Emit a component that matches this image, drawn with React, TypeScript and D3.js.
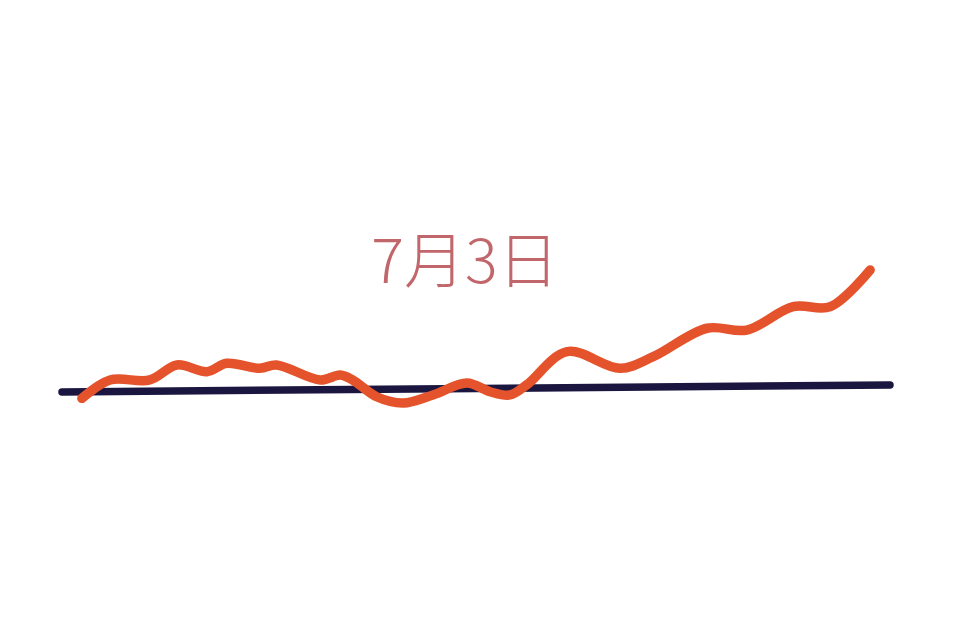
import React from "react";
import * as d3 from "d3";

const xs = [2.4, 5.8, 10.6, 13.9, 17.5, 19.9, 23.9, 25.9, 31.2, 33.6, 35.1, 38.0, 41.2, 44.8, 48.9, 51.7, 54.1, 56.1, 61.0, 67.4, 71.4, 77.9, 82.7, 88.3, 92.8, 97.6];
const values = [-8.6, 6.7, 6.7, 19.2, 13.6, 20.6, 16.4, 19.2, 6.7, 10.8, 6.7, -7.3, -12.5, -5.8, 4.2, -3.1, -5.8, 2.5, 30.3, 16.4, 26.1, 49.8, 48.3, 67.8, 67.8, 98.3];
const baselineXs = [0, 100];
const baselineValues = [-3.3, 2.5];
const title = "7月3日";

export default function App() {
  const W = 960, H = 620;
  const x = d3.scaleLinear().domain([0, 100]).range([62, 890]);
  const y = d3.scaleLinear().domain([-20, 100]).range([412, 268]);
  const pts: [number, number][] = xs.map((d, i) => [x(d), y(values[i])]);
  const line = d3.line().curve(d3.curveCatmullRom.alpha(0.5));
  const base: [number, number][] = baselineXs.map((d, i) => [x(d), y(baselineValues[i])]);
  return (
    <svg width={W} height={H} style={{ position: "absolute", left: 0, top: 0, background: "#fff" }}>
      <rect width={W} height={H} fill="#fff" />
      <text x={465} y={283} textAnchor="middle" fontFamily="'Noto Sans CJK SC', 'Noto Sans', sans-serif" fontSize={61} fill="#c1676b" fontWeight={300}>{title}</text>
      <path d={d3.line()(base) || ""} stroke="#1b1640" strokeWidth={7.5} strokeLinecap="round" fill="none" />
      <path d={line(pts) || ""} stroke="#e4532b" strokeWidth={9.5} strokeLinecap="round" strokeLinejoin="round" fill="none" />
    </svg>
  );
}
